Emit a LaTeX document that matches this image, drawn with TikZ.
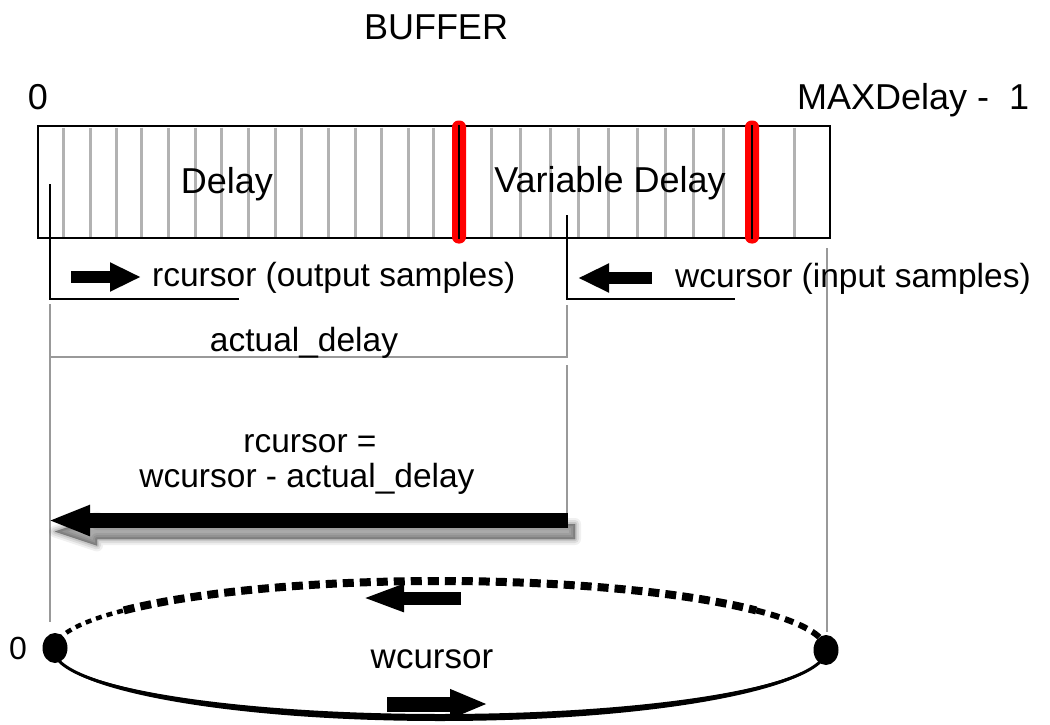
\documentclass[tikz,border=0pt]{standalone}
\usepackage{fontspec}
\setmainfont{Liberation Sans}
\usetikzlibrary{arrows.meta,shapes.geometric,calc}
\begin{document}
\begin{tikzpicture}[x=1pt,y=-1pt,
  txtA/.style={inner sep=0pt, anchor=base, font=\fontsize{36}{43}\selectfont},
  txtB/.style={inner sep=0pt, anchor=base, font=\fontsize{33.5}{40}\selectfont},
  txtC/.style={inner sep=0pt, anchor=base, font=\fontsize{32}{38}\selectfont},
  cellline/.style={gray!60, line width=3pt},
  guide/.style={gray!80, line width=1.5pt},
  bracket/.style={black, line width=2pt},
  redmark/.style={fill=red, rounded corners=6.5pt},
  markline/.style={black, line width=2.4pt},
  smallarrow/.style={line width=12.5pt, -{Triangle[length=31pt,width=27pt]}},
  bigarrow/.style={line width=15pt, -{Triangle[length=42pt,width=28pt]}},
  ringarrow/.style={line width=13pt, -{Triangle[length=42pt,width=25pt]}},
  dot/.style={ellipse, fill=black, inner sep=0pt, minimum width=25pt, minimum height=30pt},
]
\useasboundingbox (0,0) rectangle (1050,725);
\fill[white] (0,0) rectangle (1050,725);

% top labels
\node[txtA] (title) at (436,40) {BUFFER};
\node[txtA] (zeroTop) at (38,110) {0};
\node[txtA, anchor=base west] (maxLbl) at (797,110) {MAXDelay -\ \ 1};

% buffer
\coordinate (bufNW) at (38,126);
\coordinate (bufSE) at (830,238);
\foreach \x in {63.3,90,116.7,141.7,168.3,195,221.7,248.3,275,301.7,328.3,355,381.7,408.3,433.3,491.7,520,550,578,608,637,665,693,723,794}
  \draw[cellline] (\x,127.5) -- (\x,236.5);
\draw[line width=2.6pt] (bufNW) rectangle (bufSE);

% red markers
\fill[redmark] (452,120.5) rectangle (466,243.5);
\coordinate (m1a) at (459,125); \coordinate (m1b) at (459,239);
\draw[markline] (m1a) -- (m1b);
\fill[redmark] (745,120.5) rectangle (759,243.5);
\coordinate (m2a) at (752,125); \coordinate (m2b) at (752,239);
\draw[markline] (m2a) -- (m2b);

\node[txtA] (delayLbl) at (227,193) {Delay};
\node[txtA] (varLbl) at (610,192) {Variable Delay};

% guide lines (grey)
\coordinate (g1a) at (50,304); \coordinate (g1b) at (50,622);
\draw[guide] (g1a) -- (g1b);
\coordinate (g2a) at (827,248); \coordinate (g2b) at (827,632);
\draw[guide] (g2a) -- (g2b);
\coordinate (g3a) at (567,305); \coordinate (g3b) at (567,357); \coordinate (g3c) at (50,357);
\draw[guide] (g3a) -- (g3b) -- (g3c);
\coordinate (g4a) at (567,365); \coordinate (g4b) at (567,514);
\draw[guide] (g4a) -- (g4b);

% cursor brackets
\coordinate (rTop) at (50,184); \coordinate (rCorner) at (50,299); \coordinate (rEnd) at (239,299);
\draw[bracket] (rTop) -- (rCorner) -- (rEnd);
\coordinate (wTop) at (567,215); \coordinate (wCorner) at (567,299); \coordinate (wEnd) at (735,299);
\draw[bracket] (wTop) -- (wCorner) -- (wEnd);

% small arrows
\coordinate (ra1) at (71,277); \coordinate (ra2) at (141,277);
\draw[smallarrow] (ra1) -- (ra2);
\coordinate (wa1) at (652,278); \coordinate (wa2) at (578,278);
\draw[smallarrow] (wa1) -- (wa2);

\node[txtB, anchor=base west] (rLbl) at (152,286) {rcursor (output samples)};
\node[txtB, anchor=base west] (wLbl) at (675,287) {wcursor (input samples)};
\node[txtB] (adLbl) at (304,351) {actual\_delay};

\node[txtB] (eq1) at (310,452) {rcursor =};
\node[txtB] (eq2) at (307,487) {wcursor - actual\_delay};

% big arrow with soft shadow
\begin{scope}[shift={(7,11)}]
  \foreach \w/\o in {12/0.06, 8/0.08, 4/0.1, 0.5/0.14}
    \filldraw[black, opacity=\o, line width=\w pt, line join=round]
      (48,520.5) -- (90,506.5) -- (90,513) -- (568,513) -- (568,528) -- (90,528) -- (90,534.5) -- cycle;
\end{scope}
\coordinate (bigTail) at (568,520.5); \coordinate (bigTip) at (48,520.5);
\draw[bigarrow] (bigTail) -- (bigTip);

% ring
\coordinate (ringC) at (440,650);
\fill (54,650) arc[start angle=180,end angle=0,x radius=386,y radius=71]
      arc[start angle=0,end angle=180,x radius=386,y radius=64] -- cycle;
\draw[line width=3pt] (54,650) arc[start angle=180,end angle=0,x radius=386,y radius=67];
\draw[line width=4.5pt, dash pattern=on 6pt off 5pt] (54,650) arc[start angle=180,end angle=215,x radius=386,y radius=69];
\draw[line width=8pt, dash pattern=on 11pt off 6pt] ($(ringC)+(215:386 and 69)$) arc[start angle=215,end angle=325,x radius=386,y radius=69];
\draw[line width=6pt, dash pattern=on 9pt off 6pt] ($(ringC)+(325:386 and 69)$) arc[start angle=325,end angle=360,x radius=386,y radius=69];

\node[dot] (dotL) at (55,648) {};
\node[dot] (dotR) at (826,650) {};

\coordinate (ta1) at (461,598); \coordinate (ta2) at (362,598);
\draw[ringarrow] (ta1) -- (ta2);
\coordinate (ba1) at (387,704); \coordinate (ba2) at (488,704);
\draw[ringarrow, line width=15pt, -{Triangle[length=38pt,width=27pt]}] (ba1) -- (ba2);

\node[txtA, font=\fontsize{35}{42}\selectfont] (wcLbl) at (432,668) {wcursor};
\node[txtC] (zeroEll) at (18,659) {0};
\end{tikzpicture}
\end{document}
